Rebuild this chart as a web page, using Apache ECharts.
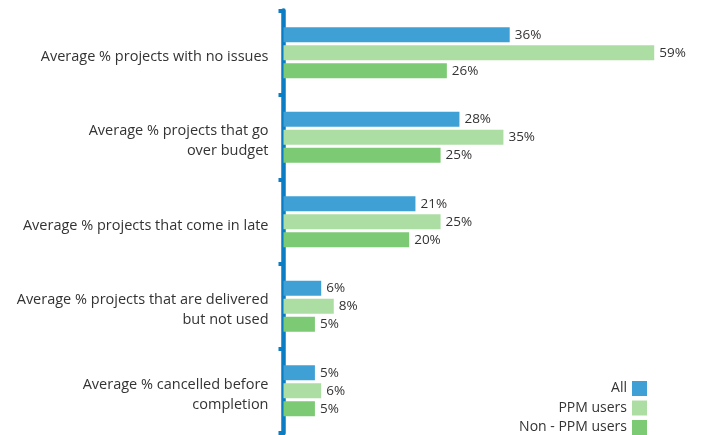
<!DOCTYPE html>
<html><head><meta charset="utf-8">
<script src="https://cdn.jsdelivr.net/npm/echarts@6/dist/echarts.min.js"></script>
<style>html,body{margin:0;padding:0;background:#fff}#c{width:707px;height:435px}</style>
</head><body><div id="c"></div>
<script>
const categories = [
  "Average % projects with no issues",
  "Average % projects that go\nover budget",
  "Average % projects that come in late",
  "Average % projects that are delivered\nbut not used",
  "Average % cancelled before\ncompletion"
];
const seriesNames = ["All", "PPM users", "Non - PPM users"];
const allValues = [36, 28, 21, 6, 5];
const ppmValues = [59, 35, 25, 8, 6];
const nonPpmValues = [26, 25, 20, 5, 5];
const colors = ["#3fa0d6", "#acdea4", "#7dca74"];

const chart = echarts.init(document.getElementById('c'));
const font = "'Open Sans', sans-serif";
function mk(name, data, color) {
  return {
    name, type: 'bar', data, barWidth: 15, barGap: '20%',
    itemStyle: { color },
    label: { show: true, position: 'right', distance: 5, formatter: '{c}%', color: '#333', fontSize: 13.5, fontFamily: font }
  };
}
const lab = { color: '#333', fontSize: 14.5, lineHeight: 20, fontFamily: font, align: 'right' };
chart.setOption({
  animation: false,
  textStyle: { fontFamily: font },
  grid: { left: 283.5, right: 46.5, top: 10.5, bottom: 2, containLabel: false },
  xAxis: { type: 'value', min: 0, max: 60, show: false },
  yAxis: {
    type: 'category', data: categories, inverse: true,
    axisLine: { show: true, lineStyle: { color: '#0a7dc4', width: 4.5 } },
    axisTick: { show: true, length: 5, lineStyle: { color: '#0a7dc4', width: 4 } },
    axisLabel: Object.assign({ margin: 15,
      formatter: v => '{s| }\n' + v.split('\n').map(l => '{n|' + l + '}').join('\n'),
      rich: { s: { fontSize: 2, lineHeight: 8, color: 'rgba(0,0,0,0)' }, n: Object.assign({}, lab) }
    }, lab)
  },
  legend: {
    orient: 'vertical', right: 60, bottom: 0, padding: 0, align: 'right',
    itemWidth: 15, itemHeight: 15, itemGap: 4.5,
    textStyle: { color: '#333', fontSize: 14, fontFamily: font },
    icon: 'rect', data: seriesNames
  },
  series: [mk(seriesNames[0], allValues, colors[0]), mk(seriesNames[1], ppmValues, colors[1]), mk(seriesNames[2], nonPpmValues, colors[2])]
});
</script></body></html>
